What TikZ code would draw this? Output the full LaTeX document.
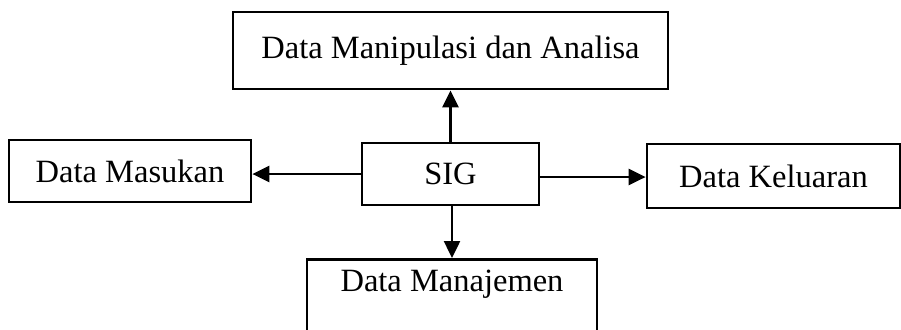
\documentclass[tikz,border=0pt]{standalone}
\usepackage{fontspec}
\setmainfont{Liberation Serif}
\usepackage{tikz}
\usetikzlibrary{arrows.meta}

\begin{document}
\begin{tikzpicture}[x=0.02cm,y=-0.02cm,
    box/.style={draw, line width=1.6pt, inner sep=0pt, font=\fontsize{18.5}{22}\selectfont},
    link/.style={line width=1.4pt, -{Triangle[length=0.34cm,width=0.32cm]}}]
    \useasboundingbox (0,0) rectangle (901,329);
    \node[box, minimum width=8.7cm, minimum height=1.54cm] (manip) at (450.5,50.5) {Data Manipulasi dan Analisa};
    \node[box, minimum width=4.84cm, minimum height=1.24cm] (masukan) at (130,171) {Data Masukan};
    \node[box, minimum width=3.54cm, minimum height=1.24cm] (sig) at (450.5,174) {SIG};
    \node[box, minimum width=5.06cm, minimum height=1.28cm] (keluaran) at (773.5,176) {Data Keluaran};
    % kotak bawah terpotong di tepi gambar
    \node[box, minimum width=5.8cm, anchor=north, inner ysep=0.2cm, text height=0.44cm, text depth=2cm] (manajemen) at (452,258) {Data Manajemen};
    \draw[link] (sig.north) -- (manip.south);
    \draw[link] (sig.west) -- (sig.west -| masukan.east);
    \draw[link] ([yshift=-0.06cm]sig.east) -- ([yshift=-0.06cm]sig.east -| keluaran.west);
    \draw[link] (sig.south -| manajemen.north) -- (manajemen.north);
\end{tikzpicture}
\end{document}
